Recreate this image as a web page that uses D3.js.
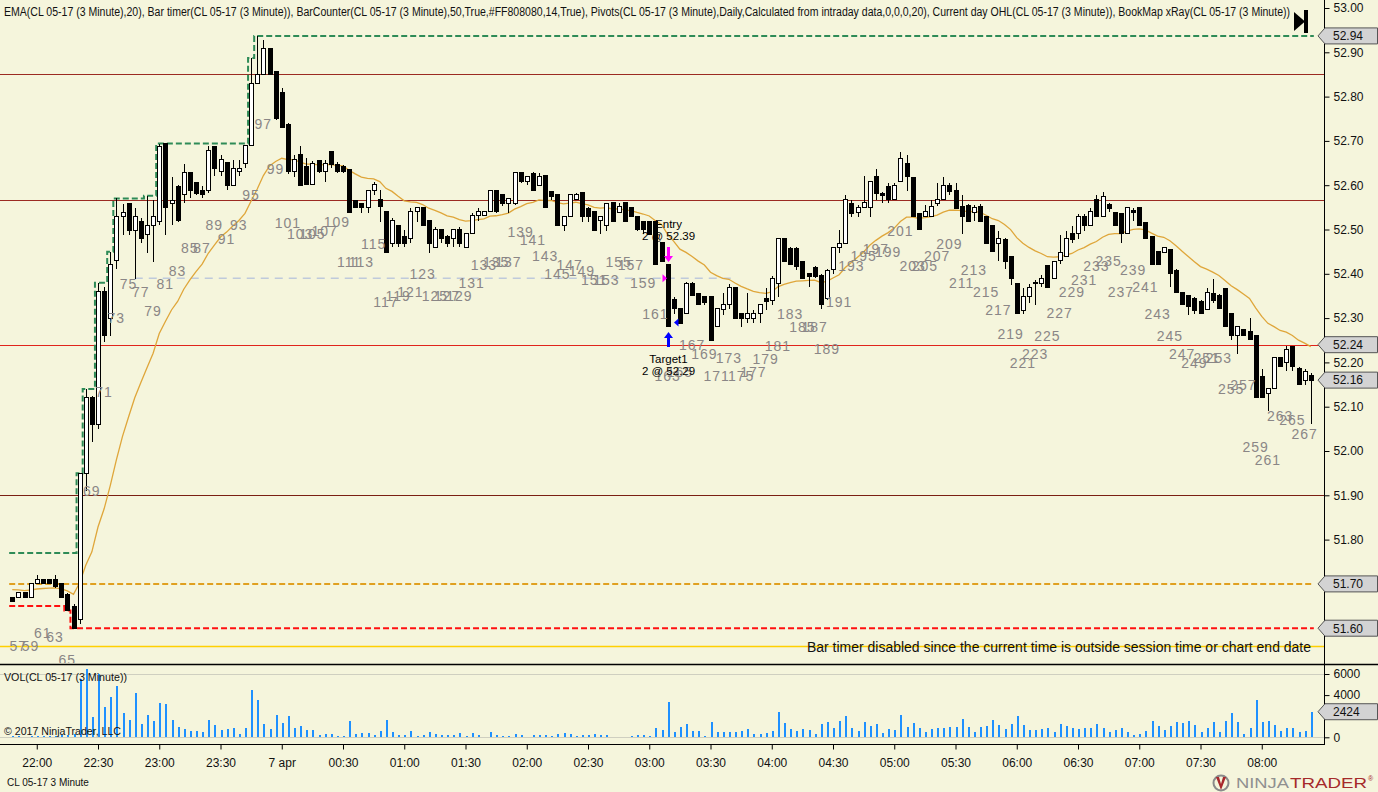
<!DOCTYPE html>
<html><head><meta charset="utf-8">
<script src="https://cdn.jsdelivr.net/npm/d3@7"></script>
<style>
body{margin:0;background:#f5f5dc;}
svg{display:block;font-family:Arial,"Liberation Sans",sans-serif;}
</style>
</head><body>
<svg id="c" width="1378" height="792"></svg>
<script>
// ---------------- DATA ----------------
const firstBar = 56;               // bar counter of first visible bar
const sessionRef = {bar: 60, time: [2017, 3, 6, 22, 0]}; // bar 60 closes at 22:00
const barMinutes = 3;

const opens = [
51.67,51.67,51.68,51.67,51.70,51.71,51.71,51.71,51.70,51.675,
51.65,51.62,51.95,52.12,52.06,52.36,52.30,52.43,52.53,52.558,
52.497,52.518,52.488,52.508,52.518,52.694,52.559,52.598,52.58,52.628,
52.606,52.589,52.588,52.688,52.631,52.651,52.60,52.63,52.649,52.69,
52.83,52.849,52.909,52.856,52.81,52.736,52.631,52.67,52.642,52.601,
52.655,52.631,52.676,52.646,52.642,52.636,52.565,52.559,52.55,52.588,
52.568,52.54,52.469,52.51,52.484,52.48,52.54,52.55,52.52,52.46,
52.499,52.485,52.48,52.499,52.46,52.49,52.531,52.531,52.54,52.589,
52.578,52.559,52.559,52.629,52.608,52.627,52.60,52.623,52.585,52.58,
52.508,52.53,52.567,52.583,52.548,52.54,52.52,52.51,52.561,52.538,
52.56,52.55,52.53,52.518,52.518,52.518,52.47,52.42,52.341,52.322,
52.31,52.378,52.356,52.348,52.348,52.28,52.32,52.33,52.37,52.31,
52.30,52.30,52.31,52.345,52.34,52.378,52.48,52.457,52.457,52.427,
52.40,52.415,52.397,52.345,52.41,52.46,52.469,52.559,52.538,52.55,
52.55,52.62,52.582,52.597,52.568,52.608,52.65,52.618,52.536,52.53,
52.53,52.559,52.568,52.60,52.589,52.552,52.555,52.538,52.552,52.53,
52.508,52.469,52.478,52.44,52.378,52.318,52.348,52.38,52.378,52.418,
52.39,52.43,52.44,52.49,52.49,52.529,52.51,52.567,52.53,52.556,
52.538,52.535,52.49,52.542,52.55,52.515,52.484,52.45,52.448,52.455,
52.408,52.357,52.35,52.345,52.337,52.32,52.356,52.35,52.367,52.31,
52.26,52.275,52.27,52.26,52.168,52.13,52.14,52.21,52.20,52.237,
52.186,52.16,52.17];

const highs = [
51.67,51.68,51.68,51.70,51.72,51.71,51.71,51.72,51.70,51.68,
51.655,51.95,52.14,52.125,52.38,52.37,52.45,52.57,52.558,52.56,
52.548,52.527,52.576,52.567,52.694,52.694,52.619,52.60,52.648,52.628,
52.606,52.598,52.688,52.688,52.668,52.651,52.657,52.657,52.69,52.887,
52.937,52.928,52.909,52.856,52.82,52.74,52.668,52.688,52.661,52.655,
52.657,52.657,52.676,52.653,52.646,52.636,52.566,52.56,52.589,52.608,
52.589,52.54,52.525,52.51,52.499,52.548,52.55,52.55,52.52,52.506,
52.499,52.487,52.499,52.506,52.49,52.538,52.548,52.54,52.589,52.589,
52.58,52.57,52.629,52.629,52.62,52.63,52.627,52.623,52.585,52.58,
52.53,52.578,52.583,52.583,52.55,52.54,52.53,52.56,52.561,52.56,
52.56,52.55,52.53,52.518,52.518,52.518,52.47,52.42,52.348,52.322,
52.382,52.382,52.356,52.348,52.348,52.322,52.356,52.377,52.37,52.31,
52.356,52.318,52.33,52.367,52.395,52.48,52.48,52.46,52.46,52.43,
52.40,52.418,52.40,52.41,52.46,52.499,52.578,52.567,52.555,52.62,
52.61,52.636,52.585,52.606,52.606,52.676,52.668,52.618,52.536,52.555,
52.567,52.606,52.618,52.606,52.606,52.578,52.557,52.555,52.557,52.53,
52.508,52.497,52.48,52.44,52.378,52.367,52.378,52.387,52.397,52.418,
52.43,52.487,52.497,52.508,52.536,52.536,52.548,52.578,52.585,52.56,
52.538,52.535,52.55,52.548,52.55,52.515,52.484,52.45,52.46,52.455,
52.41,52.36,52.35,52.348,52.34,52.367,52.388,52.355,52.367,52.31,
52.28,52.275,52.30,52.26,52.186,52.14,52.21,52.21,52.237,52.237,
52.19,52.186,52.175];

const lows = [
51.66,51.67,51.67,51.67,51.70,51.70,51.70,51.69,51.67,51.64,
51.60,51.61,51.91,52.02,52.05,52.245,52.26,52.41,52.488,52.488,
52.388,52.469,52.447,52.427,52.51,52.488,52.51,52.518,52.559,52.57,
52.578,52.57,52.582,52.62,52.62,52.589,52.598,52.62,52.638,52.688,
52.83,52.849,52.849,52.747,52.728,52.625,52.619,52.60,52.60,52.60,
52.627,52.608,52.638,52.627,52.627,52.538,52.548,52.538,52.538,52.578,
52.518,52.448,52.46,52.46,52.46,52.469,52.518,52.51,52.448,52.46,
52.469,52.46,52.46,52.46,52.46,52.49,52.52,52.531,52.54,52.538,
52.552,52.538,52.555,52.605,52.60,52.588,52.60,52.55,52.567,52.51,
52.497,52.53,52.567,52.518,52.518,52.497,52.49,52.497,52.518,52.538,
52.518,52.53,52.497,52.49,52.488,52.42,52.428,52.28,52.31,52.288,
52.31,52.35,52.33,52.33,52.25,52.28,52.307,52.32,52.30,52.28,
52.29,52.288,52.288,52.318,52.33,52.348,52.427,52.42,52.408,52.39,
52.37,52.39,52.32,52.34,52.40,52.446,52.469,52.529,52.529,52.55,
52.529,52.567,52.56,52.559,52.568,52.608,52.588,52.529,52.499,52.529,
52.529,52.552,52.567,52.578,52.548,52.49,52.518,52.52,52.518,52.469,
52.45,52.43,52.41,52.375,52.309,52.309,52.333,52.33,52.371,52.37,
52.39,52.422,52.44,52.469,52.478,52.497,52.51,52.529,52.529,52.54,
52.51,52.47,52.49,52.52,52.51,52.48,52.42,52.42,52.448,52.37,
52.357,52.33,52.307,52.31,52.31,52.32,52.333,52.32,52.28,52.25,
52.22,52.26,52.25,52.12,52.12,52.09,52.14,52.19,52.18,52.18,
52.15,52.15,52.06];

const closes = [
51.66,51.68,51.67,51.70,51.71,51.70,51.70,51.695,51.67,51.64,
51.60,51.95,52.12,52.06,52.36,52.26,52.42,52.53,52.538,52.497,
52.529,52.48,52.508,52.529,52.688,52.55,52.566,52.52,52.628,52.589,
52.582,52.58,52.679,52.638,52.658,52.60,52.638,52.638,52.69,52.83,
52.85,52.909,52.849,52.75,52.73,52.63,52.657,52.60,52.601,52.649,
52.631,52.649,52.646,52.631,52.631,52.538,52.55,52.55,52.589,52.601,
52.552,52.448,52.52,52.469,52.469,52.54,52.55,52.51,52.469,52.499,
52.48,52.469,52.499,52.469,52.49,52.531,52.54,52.54,52.589,52.54,
52.559,52.57,52.629,52.608,52.619,52.588,52.62,52.55,52.574,52.51,
52.53,52.578,52.58,52.529,52.53,52.497,52.53,52.559,52.518,52.552,
52.518,52.53,52.50,52.50,52.488,52.42,52.428,52.28,52.322,52.288,
52.378,52.352,52.33,52.335,52.25,52.322,52.33,52.37,52.30,52.30,
52.31,52.31,52.33,52.338,52.39,52.48,52.427,52.42,52.416,52.39,
52.393,52.393,52.33,52.408,52.46,52.469,52.568,52.535,52.55,52.56,
52.608,52.582,52.576,52.568,52.60,52.66,52.62,52.529,52.50,52.54,
52.552,52.567,52.60,52.585,52.548,52.529,52.518,52.55,52.518,52.469,
52.45,52.48,52.427,52.39,52.31,52.348,52.37,52.377,52.39,52.37,
52.427,52.448,52.48,52.478,52.529,52.51,52.54,52.53,52.575,52.548,
52.51,52.49,52.55,52.538,52.51,52.48,52.42,52.42,52.46,52.40,
52.357,52.33,52.327,52.318,52.31,52.357,52.34,52.322,52.28,52.26,
52.28,52.26,52.252,52.12,52.12,52.14,52.21,52.19,52.23,52.19,
52.15,52.18,52.16];

const volumes = [
80,100,60,150,160,160,80,160,220,220,
320,5530,6480,1960,6000,2900,3860,4870,2300,1640,
4200,1260,2120,1550,3250,3160,1640,1010,790,600,
600,510,1640,1170,700,790,880,320,880,4490,
3540,1260,790,2120,1360,2020,880,1070,700,700,
250,320,320,130,130,1550,320,410,410,220,
600,1640,510,220,220,600,130,250,510,320,
220,220,220,410,130,410,220,60,510,220,
130,130,320,220,60,220,220,220,130,320,
410,320,130,220,220,320,220,220,60,60,
60,130,220,220,130,880,700,3350,510,980,
1260,630,630,160,1450,510,510,510,510,600,
790,320,320,410,600,2400,1360,790,600,790,
700,320,1260,1450,880,1550,2020,880,600,1450,
1070,1260,410,790,700,2120,980,1360,880,510,
790,880,880,980,980,1740,980,510,980,1070,
1640,1170,790,1260,2020,1170,700,700,790,880,
510,1260,1070,880,790,880,880,1260,880,510,
700,880,510,220,320,600,1550,1070,700,1070,
1450,1360,1550,1170,510,880,1450,510,1550,2310,
1450,320,880,3540,1450,1550,1170,600,880,880,
510,600,2424];

const emaPeriod = 20;
const emaSeed = 51.687;           // EMA value at first visible bar
const priorDayHigh = 51.77;       // current day high before first visible bar
const priorDayLow = 51.65;        // current day low before first visible bar
const dayOpen = 51.70;
const pivotLevels = [52.85, 52.567, 52.24, 51.90, 51.56];
const pivotKinds  = ["r", "r", "pp", "s", "s2"];
const hLine = {price: 52.39, fromBar: 76, toBar: 174};
const trade = {bar: 163, qty: 2, entry: 52.39, target: 52.29};
const priceTicks = [51.6,51.7,51.8,51.9,52.0,52.1,52.2,52.3,52.4,52.5,52.6,52.7,52.8,52.9,53.0];
const volTicks = [0, 4000, 6000];
const monthNames = ["jan","feb","mar","apr","may","jun","jul","aug","sep","oct","nov","dec"];

const legendText = "EMA(CL 05-17 (3 Minute),20), Bar timer(CL 05-17 (3 Minute)), BarCounter(CL 05-17 (3 Minute),50,True,#FF808080,14,True), Pivots(CL 05-17 (3 Minute),Daily,Calculated from intraday data,0,0,0,20), Current day OHL(CL 05-17 (3 Minute)), BookMap xRay(CL 05-17 (3 Minute))";
const timerText = "Bar timer disabled since the current time is outside session time or chart end date";

// ---------------- BUILD ----------------
const bars = opens.map((o, i) => {
  const n = firstBar + i;
  return {n, o, h: Math.max(highs[i], o, closes[i]), l: Math.min(lows[i], o, closes[i]), c: closes[i], v: volumes[i]};
});
const t0 = new Date(sessionRef.time[0], sessionRef.time[1], sessionRef.time[2], sessionRef.time[3], sessionRef.time[4]);
const barTime = n => new Date(t0.getTime() + (n - sessionRef.bar) * barMinutes * 60000);
bars.forEach(b => b.t = barTime(b.n));
// EMA
let e = emaSeed;
bars.forEach((b, i) => { if (i > 0) e = e + (2/(emaPeriod+1))*(b.c - e); b.ema = e; });
// running day high / low
let rh = priorDayHigh, rl = priorDayLow;
bars.forEach(b => { rh = Math.max(rh, b.h); rl = Math.min(rl, b.l); b.dh = rh; b.dl = rl; });

const svg = d3.select("#c");
const W = 1378, axisX = 1324, priceBottom = 663, volTop = 664, volBottom = 744;
svg.append("rect").attr("width", W).attr("height", 792).attr("fill", "#f5f5dc");

const x = d3.scaleTime().domain([barTime(54), barTime(270)]).range([0, 1323]);
const y = d3.scaleLinear().domain([51.5, 53.0]).range([672.5, 8]);
const yv = d3.scaleLinear().domain([0, 6000]).range([737.3, 674]);
const half = (x(barTime(57)) - x(barTime(56))) / 2;
const bx = b => Math.round(x(b.t));

// clip for price panel
svg.append("clipPath").attr("id", "pc").append("rect").attr("x", 0).attr("y", 0).attr("width", axisX).attr("height", priceBottom);
const gp = svg.append("g").attr("clip-path", "url(#pc)");

// pivot lines
const pivotColor = {r: "#9b2a22", pp: "#e0241c", s: "#7a1f14", s2: "#ffd000"};
gp.selectAll("line.piv").data(pivotLevels).join("line")
  .attr("x1", 0).attr("x2", axisX).attr("y1", d => Math.round(y(d)) + 0.5).attr("y2", d => Math.round(y(d)) + 0.5)
  .attr("stroke", (d, i) => pivotColor[pivotKinds[i]]).attr("stroke-width", (d,i)=>pivotKinds[i]==="s2"?1.5:1);

// grey dashed level
gp.append("line")
  .attr("x1", x(barTime(hLine.fromBar))).attr("x2", x(barTime(hLine.toBar)))
  .attr("y1", y(hLine.price)).attr("y2", y(hLine.price))
  .attr("stroke", "#bfcadb").attr("stroke-width", 1.5).attr("stroke-dasharray", "8,6");

// day open
const xs = x(bars[0].t) - half, xe = x(bars[bars.length-1].t) + half;
gp.append("line").attr("x1", xs).attr("x2", xe).attr("y1", y(dayOpen)).attr("y2", y(dayOpen))
  .attr("stroke", "#e0a020").attr("stroke-width", 2).attr("stroke-dasharray", "6,3");

// day high / low step lines
function stepPts(key) {
  const pts = bars.map(b => [x(b.t) - half, y(b[key])]);
  pts.push([xe, y(bars[bars.length-1][key])]);
  return pts;
}
const stepLine = d3.line().curve(d3.curveStepAfter);
gp.append("path").attr("d", stepLine(stepPts("dh"))).attr("fill", "none")
  .attr("stroke", "#2e8b57").attr("stroke-width", 2).attr("stroke-dasharray", "6,3");
gp.append("path").attr("d", stepLine(stepPts("dl"))).attr("fill", "none")
  .attr("stroke", "#ff1010").attr("stroke-width", 2).attr("stroke-dasharray", "6,3");

// EMA
gp.append("path").attr("d", d3.line().x(b => x(b.t)).y(b => y(b.ema)).curve(d3.curveLinear)(bars))
  .attr("fill", "none").attr("stroke", "#dfa63a").attr("stroke-width", 1.3);

// candles
const cg = gp.append("g").attr("shape-rendering", "crispEdges");
cg.selectAll("line.w").data(bars).join("line")
  .attr("x1", b => bx(b) + 0.5).attr("x2", b => bx(b) + 0.5)
  .attr("y1", b => y(b.h)).attr("y2", b => y(b.l))
  .attr("stroke", "#000").attr("stroke-width", 1);
cg.selectAll("rect.b").data(bars).join("rect")
  .attr("x", b => bx(b) - 1.5).attr("width", 4)
  .attr("y", b => y(Math.max(b.o, b.c)))
  .attr("height", b => Math.max(1, y(Math.min(b.o, b.c)) - y(Math.max(b.o, b.c))))
  .attr("fill", b => b.c >= b.o ? "#fff" : "#000")
  .attr("stroke", "#000").attr("stroke-width", 1);

// bar counter labels
gp.selectAll("text.lbl").data(bars.filter(b => b.n % 2 === 1)).join("text")
  .attr("x", b => x(b.t)).attr("y", b => y(b.l) + 49).attr("dy", "0.36em")
  .attr("text-anchor", "middle").attr("font-size", 14).attr("letter-spacing", 1)
  .attr("fill", "#8a8686").text(b => b.n);

// trade markers
const tb = bars.find(b => b.n === trade.bar);
const tx = bx(tb) + 0.5;
const ag = gp.append("g");
const eTop = y(tb.h) - 18, eBot = y(tb.h) - 3;
ag.append("path").attr("d", `M${tx-1.5},${eTop} h3 v${(eBot-eTop)-6} h3 l-4.5,6 l-4.5,-6 h3 z`).attr("fill", "#ff00ff");
ag.append("path").attr("d", `M${tx-6},${y(trade.entry)-4} l4.5,4 l-4.5,4 z`).attr("fill", "#ff00ff");
const tTop = y(tb.l) + 5, tBot = y(tb.l) + 20;
ag.append("path").attr("d", `M${tx},${tTop} l4.5,6 h-3 v${(tBot-tTop)-6} h-3 v${-((tBot-tTop)-6)} h-3 z`).attr("fill", "#0000ff");
ag.append("path").attr("d", `M${tx+5.5},${y(trade.target)} l4.5,-4 v8 z`).attr("fill", "#0000ff");
ag.append("text").attr("x", tx).attr("y", eTop - 19).attr("text-anchor", "middle").attr("font-size", 11.5).text("Entry");
ag.append("text").attr("x", tx).attr("y", eTop - 7).attr("text-anchor", "middle").attr("font-size", 11.5).text(`${trade.qty} @ ${trade.entry.toFixed(2)}`);
ag.append("text").attr("x", tx).attr("y", tBot + 16).attr("text-anchor", "middle").attr("font-size", 11.5).text("Target1");
ag.append("text").attr("x", tx).attr("y", tBot + 28).attr("text-anchor", "middle").attr("font-size", 11.5).text(`${trade.qty} @ ${trade.target.toFixed(2)}`);

// timer text
svg.append("text").attr("x", 1311).attr("y", 652).attr("text-anchor", "end").attr("font-size", 14)
  .attr("textLength", 504).attr("lengthAdjust", "spacingAndGlyphs").attr("fill", "#111").text(timerText);

// legend
svg.append("text").attr("x", 4).attr("y", 16).attr("font-size", 12).attr("fill", "#111")
  .attr("textLength", 1286).attr("lengthAdjust", "spacingAndGlyphs").text(legendText);

// end icon
svg.append("path").attr("d", "M1294,12 L1305,21.5 L1294,31 Z").attr("fill", "#000");
svg.append("rect").attr("x", 1304).attr("y", 10).attr("width", 4).attr("height", 23).attr("fill", "#000");

// ---------- volume panel ----------
svg.append("line").attr("x1", 0).attr("x2", W).attr("y1", volTop + 0.5).attr("y2", volTop + 0.5).attr("stroke", "#000").attr("stroke-width", 1.5);
svg.selectAll("line.vg").data([6000, 0]).join("line")
  .attr("x1", 0).attr("x2", axisX).attr("y1", d => Math.round(yv(d)) + 0.5).attr("y2", d => Math.round(yv(d)) + 0.5)
  .attr("stroke", "#cfcfc0").attr("stroke-width", 1);
svg.append("g").attr("shape-rendering", "crispEdges").selectAll("rect").data(bars).join("rect")
  .attr("x", b => bx(b) - 0.5).attr("width", 2)
  .attr("y", b => yv(b.v)).attr("height", b => yv(0) - yv(b.v))
  .attr("fill", "#1e90ff");
svg.append("text").attr("x", 4).attr("y", 681).attr("font-size", 11.5).attr("fill", "#111")
  .attr("textLength", 123).attr("lengthAdjust", "spacingAndGlyphs").text("VOL(CL 05-17 (3 Minute))");
svg.append("text").attr("x", 4).attr("y", 735).attr("font-size", 11.5).attr("fill", "#111")
  .attr("textLength", 117).attr("lengthAdjust", "spacingAndGlyphs").text("© 2017 NinjaTrader, LLC");

// ---------- axes ----------
svg.append("line").attr("x1", axisX + 0.5).attr("x2", axisX + 0.5).attr("y1", 0).attr("y2", volBottom).attr("stroke", "#000");
svg.append("line").attr("x1", 0).attr("x2", axisX + 1).attr("y1", volBottom + 0.5).attr("y2", volBottom + 0.5).attr("stroke", "#000");

const pAxis = svg.append("g").attr("transform", `translate(${axisX + 0.5},0)`)
  .call(d3.axisRight(y).tickValues(priceTicks).tickFormat(d3.format(".2f")).tickSize(5).tickPadding(4));
const vAxis = svg.append("g").attr("transform", `translate(${axisX + 0.5},0)`)
  .call(d3.axisRight(yv).tickValues(volTicks).tickFormat(d3.format("d")).tickSize(5).tickPadding(4));
const tickVals = d3.timeMinute.every(30).range(barTime(54), barTime(268));
const tAxis = svg.append("g").attr("transform", `translate(0,${volBottom + 0.5})`)
  .call(d3.axisBottom(x).tickValues(tickVals).tickSize(5).tickPadding(9)
    .tickFormat(d => (d.getHours() === 0 && d.getMinutes() === 0) ? `${d.getDate()} ${monthNames[d.getMonth()]}` : d3.timeFormat("%H:%M")(d)));
[pAxis, vAxis, tAxis].forEach(g => {
  g.select(".domain").remove();
  g.selectAll("text").attr("font-size", 12).attr("fill", "#111").attr("font-family", "Arial, 'Liberation Sans', sans-serif");
  g.selectAll("line").attr("stroke", "#000");
});

// ---------- axis markers ----------
const last = bars[bars.length - 1];
const priceMarkers = [last.dh, pivotLevels[2], last.c, dayOpen, last.dl];
function marker(yy, label) {
  const g = svg.append("g");
  g.append("path").attr("d", `M${axisX - 6},${yy} L${axisX + 1},${yy - 8} L${W - 0.5},${yy - 8} L${W - 0.5},${yy + 8} L${axisX + 1},${yy + 8} Z`)
    .attr("fill", "#d3d3d3").attr("stroke", "#555").attr("stroke-width", 1);
  g.append("text").attr("x", axisX + 9).attr("y", yy).attr("dy", "0.36em").attr("font-size", 12).attr("fill", "#111").text(label);
}
priceMarkers.forEach(v => marker(y(v), v.toFixed(2)));
marker(yv(last.v), String(last.v));

// ---------- footer ----------
svg.append("text").attr("x", 7).attr("y", 786).attr("font-size", 10).attr("fill", "#111").text("CL 05-17 3 Minute");
const logo = svg.append("g");
logo.append("circle").attr("cx", 1221).attr("cy", 783).attr("r", 7.5).attr("fill", "none").attr("stroke", "#8a8a8a").attr("stroke-width", 2);
logo.append("path").attr("d", "M1216,777 L1221,790 L1226,777 L1223,777 L1221,784 L1219,777 Z").attr("fill", "#a8282c");
logo.append("text").attr("x", 1236).attr("y", 788).attr("font-size", 15).attr("fill", "#909090")
  .attr("textLength", 53).attr("lengthAdjust", "spacingAndGlyphs").attr("font-weight", 300).text("NINJA");
logo.append("text").attr("x", 1290).attr("y", 788).attr("font-size", 15).attr("fill", "#a52a2a")
  .attr("textLength", 77).attr("lengthAdjust", "spacingAndGlyphs").text("TRADER");
logo.append("text").attr("x", 1368).attr("y", 781).attr("font-size", 7).attr("fill", "#a52a2a").text("®");
</script>
</body></html>
